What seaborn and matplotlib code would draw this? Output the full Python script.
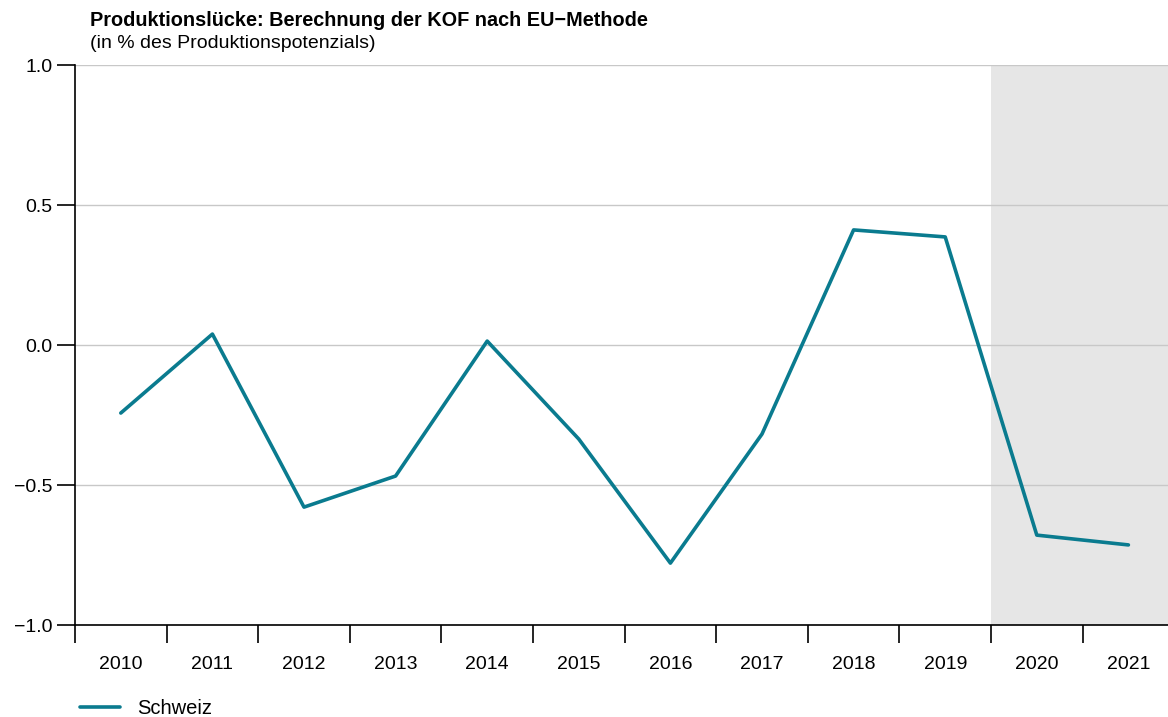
import matplotlib
matplotlib.use("Agg")
import matplotlib.pyplot as plt
import seaborn as sns
import numpy as np
import pandas as pd
from matplotlib.ticker import FixedLocator

years = [2010, 2011, 2012, 2013, 2014, 2015, 2016, 2017, 2018, 2019, 2020, 2021]
schweiz = [-0.243, 0.039, -0.579, -0.468, 0.014, -0.336, -0.779, -0.318, 0.411, 0.386, -0.679, -0.714]
y_ticks = [-1.0, -0.5, 0.0, 0.5, 1.0]
forecast_start = 2020

sns.set_theme(style="white")
plt.rcParams['font.family'] = ['Liberation Sans', 'DejaVu Sans']
plt.rcParams['text.color'] = 'black'
plt.rcParams['xtick.color'] = 'black'
plt.rcParams['ytick.color'] = 'black'

fig = plt.figure(figsize=(11.68, 7.17), dpi=100)
W, H = 1168, 717
ax = fig.add_axes([75 / W, 1 - 625 / H, (1168 - 75) / W, (625 - 65) / H])

df = pd.DataFrame({"idx": np.arange(len(years)), "Schweiz": schweiz})
n = len(years)
band = 91.6
xmax = (1168 - 75) / band - 0.5

fs = years.index(forecast_start)
ax.axvspan(fs - 0.5, n, color="#e6e6e6", zorder=0, lw=0)

for t in y_ticks:
    ax.axhline(t, color="#c8c8c8", lw=1.0, zorder=1)

sns.lineplot(data=df, x="idx", y="Schweiz", ax=ax, color="#0a7b8f", lw=2.6,
             label="Schweiz", legend=False, zorder=3)

ax.set_xlim(-0.5, xmax)
ax.set_ylim(-1.0, 1.0)
ax.set_yticks(y_ticks)
ax.set_yticklabels([f"{t:.1f}".replace("-", "\u2212") for t in y_ticks], fontsize=14)
ax.tick_params(axis="y", left=True, length=13, width=1.2, color="black", pad=3,
               labelcolor="black")

ax.xaxis.set_major_locator(FixedLocator(np.arange(-0.5, n, 1.0)))
ax.set_xticklabels([""] * len(ax.get_xticks()))
ax.set_xticks(np.arange(n), minor=True)
ax.set_xticklabels([str(y) for y in years], minor=True, fontsize=14)
ax.tick_params(axis="x", which="major", bottom=True, length=13, width=1.2, color="black")
ax.tick_params(axis="x", which="minor", bottom=True, length=0, pad=22, labelcolor="black")

for s in ["top", "right"]:
    ax.spines[s].set_visible(False)
for s in ["left", "bottom"]:
    ax.spines[s].set_color("black")
    ax.spines[s].set_linewidth(1.2)
ax.set_xlabel("")
ax.set_ylabel("")

fig.text(90 / W, 1 - 20 / H, "Produktionslücke: Berechnung der KOF nach EU\u2212Methode",
         fontsize=14.3, fontweight="bold", va="center", ha="left", color="black")
fig.text(90 / W, 1 - 44 / H, "(in % des Produktionspotenzials)",
         fontsize=14, va="center", ha="left", color="black")

handles, labels = ax.get_legend_handles_labels()
leg = fig.legend(handles, labels, loc="center left", bbox_to_anchor=(80 / W, 1 - 709 / H),
                 frameon=False, fontsize=14.5, handlelength=2.0, handletextpad=0.85,
                 borderpad=0, borderaxespad=0)
for t in leg.get_texts():
    t.set_color("black")

fig.savefig("out.png", dpi=100)
